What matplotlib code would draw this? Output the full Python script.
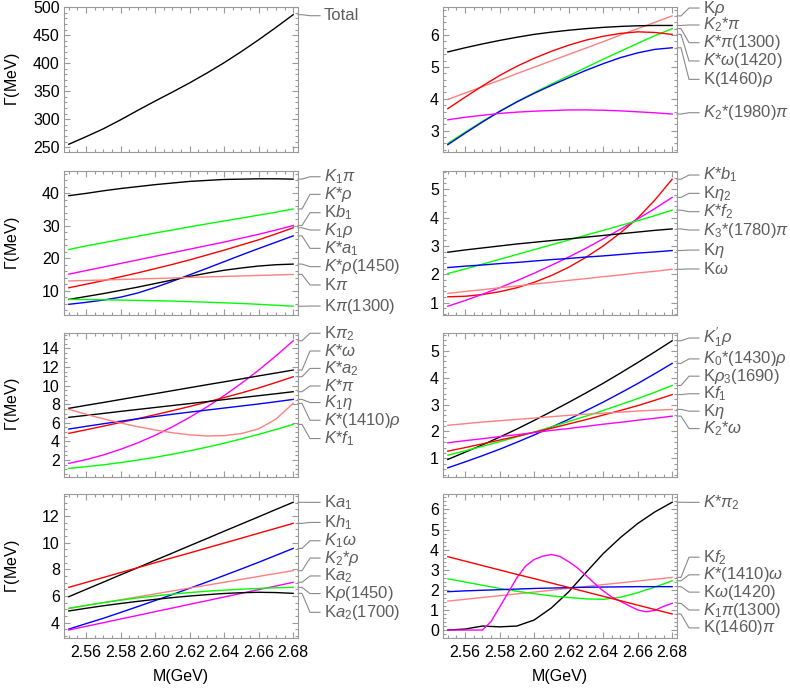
import matplotlib
matplotlib.use('Agg')
import matplotlib.pyplot as plt
from matplotlib.ticker import MultipleLocator

plt.rcParams['font.family'] = ['Liberation Sans', 'DejaVu Sans']
plt.rcParams['mathtext.fontset'] = 'custom'
plt.rcParams['mathtext.rm'] = 'Liberation Sans'
plt.rcParams['mathtext.it'] = 'Liberation Sans:italic'
plt.rcParams['mathtext.bf'] = 'Liberation Sans:bold'

# masses (GeV)
M = [2.55, 2.56, 2.57, 2.58, 2.59, 2.60, 2.61, 2.62, 2.63, 2.64, 2.65, 2.66, 2.67, 2.68]
M_fine = [2.550, 2.555, 2.560, 2.565, 2.570, 2.575, 2.580, 2.585, 2.590, 2.595,
          2.600, 2.605, 2.610, 2.615, 2.620, 2.625, 2.630, 2.635, 2.640, 2.645,
          2.650, 2.655, 2.660, 2.665, 2.670, 2.675, 2.680]

# panel 1
total = [255.4, 268.9, 283.0, 299.0, 316.0, 332.5, 348.5, 365.0, 382.5, 401.0, 421.0, 442.0, 464.0, 486.8]

# panel 2
p2_Krho = [3.98, 4.18, 4.38, 4.58, 4.79, 4.99, 5.19, 5.39, 5.59, 5.79, 6.00, 6.20, 6.40, 6.60]
p2_K2pi = [5.47, 5.60, 5.72, 5.83, 5.93, 6.02, 6.09, 6.15, 6.20, 6.24, 6.27, 6.29, 6.30, 6.30]
p2_Kspi1300 = [2.60, 2.95, 3.29, 3.61, 3.91, 4.19, 4.46, 4.72, 4.98, 5.24, 5.49, 5.74, 5.98, 6.20]
p2_Ksomega1420 = [3.69, 4.05, 4.40, 4.73, 5.02, 5.27, 5.49, 5.68, 5.84, 5.96, 6.05, 6.10, 6.08, 6.02]
p2_K1460rho = [2.56, 2.92, 3.27, 3.60, 3.90, 4.17, 4.42, 4.66, 4.89, 5.10, 5.29, 5.44, 5.55, 5.60]
p2_K21980pi = [3.34, 3.42, 3.48, 3.54, 3.58, 3.61, 3.63, 3.65, 3.65, 3.64, 3.62, 3.59, 3.56, 3.52]

# panel 3
p3_K1pi = [39.3, 40.0, 40.8, 41.5, 42.1, 42.7, 43.2, 43.7, 44.0, 44.3, 44.4, 44.5, 44.5, 44.4]
p3_Ksrho = [22.7, 23.8, 24.8, 25.8, 26.8, 27.8, 28.7, 29.7, 30.6, 31.5, 32.4, 33.3, 34.2, 35.2]
p3_Kb1 = [15.1, 16.2, 17.3, 18.4, 19.5, 20.6, 21.7, 22.8, 23.9, 25.0, 26.2, 27.4, 28.7, 30.1]
p3_K1rho = [10.9, 12.0, 13.1, 14.3, 15.5, 16.8, 18.1, 19.5, 21.0, 22.5, 24.1, 25.7, 27.5, 29.4]
p3_Ksa1 = [5.8, 6.4, 7.1, 8.0, 9.3, 11.0, 12.9, 14.9, 16.9, 18.95, 21.0, 23.0, 24.95, 26.9]
p3_Ksrho1450 = [7.3, 8.2, 9.1, 10.1, 11.1, 12.2, 13.3, 14.4, 15.4, 16.3, 17.0, 17.6, 18.0, 18.2]
p3_Kpi = [13.0, 13.15, 13.3, 13.45, 13.6, 13.75, 13.9, 14.1, 14.25, 14.4, 14.55, 14.7, 14.85, 15.0]
p3_Kpi1300 = [7.3, 7.25, 7.2, 7.1, 7.0, 6.9, 6.8, 6.6, 6.45, 6.25, 6.05, 5.8, 5.5, 5.2]

# panel 4
p4_Ksb1 = [1.21, 1.23, 1.29, 1.39, 1.53, 1.72, 1.96, 2.25, 2.60, 3.00, 3.46, 3.98, 4.62, 5.35]
p4_Keta2 = [0.88, 1.08, 1.30, 1.53, 1.78, 2.04, 2.32, 2.61, 2.92, 3.25, 3.59, 3.95, 4.32, 4.71]
p4_Ksf2 = [2.03, 2.19, 2.36, 2.53, 2.70, 2.87, 3.04, 3.21, 3.38, 3.55, 3.72, 3.89, 4.07, 4.26]
p4_K31780pi = [2.78, 2.86, 2.93, 3.00, 3.07, 3.13, 3.19, 3.25, 3.31, 3.37, 3.43, 3.49, 3.55, 3.60]
p4_Keta = [2.24, 2.29, 2.33, 2.38, 2.42, 2.47, 2.52, 2.56, 2.61, 2.65, 2.70, 2.75, 2.79, 2.84]
p4_Komega = [1.33, 1.40, 1.46, 1.53, 1.59, 1.66, 1.72, 1.79, 1.85, 1.92, 1.98, 2.05, 2.11, 2.18]

# panel 5
p5_Kpi2 = [1.64, 2.04, 2.54, 3.15, 3.85, 4.66, 5.57, 6.59, 7.71, 8.93, 10.25, 11.67, 13.20, 14.83]
p5_Ksomega = [7.56, 7.88, 8.19, 8.51, 8.83, 9.14, 9.46, 9.78, 10.10, 10.41, 10.73, 11.05, 11.36, 11.68]
p5_Ksa2 = [4.87, 5.25, 5.64, 6.04, 6.45, 6.87, 7.31, 7.76, 8.23, 8.72, 9.22, 9.75, 10.34, 10.96]
p5_Kspi = [6.59, 6.80, 7.01, 7.23, 7.44, 7.65, 7.86, 8.07, 8.28, 8.50, 8.71, 8.92, 9.13, 9.35]
p5_K1eta = [5.33, 5.62, 5.90, 6.17, 6.43, 6.68, 6.92, 7.15, 7.37, 7.59, 7.81, 8.03, 8.27, 8.52]
p5_Ks1410rho = [7.45, 6.92, 6.43, 5.98, 5.58, 5.23, 4.93, 4.71, 4.58, 4.62, 4.85, 5.35, 6.40, 8.09]
p5_Ksf1 = [1.10, 1.28, 1.48, 1.72, 1.99, 2.29, 2.62, 2.99, 3.38, 3.81, 4.27, 4.76, 5.28, 5.83]

# panel 6
p6_K1prho = [0.96, 1.23, 1.50, 1.79, 2.09, 2.41, 2.74, 3.08, 3.43, 3.79, 4.17, 4.56, 4.96, 5.37]
p6_K01430rho = [0.65, 0.87, 1.10, 1.34, 1.60, 1.87, 2.16, 2.45, 2.77, 3.09, 3.43, 3.78, 4.15, 4.53]
p6_Krho3 = [1.12, 1.28, 1.45, 1.62, 1.80, 1.98, 2.17, 2.37, 2.57, 2.78, 3.00, 3.22, 3.46, 3.71]
p6_Kf1 = [1.27, 1.40, 1.54, 1.68, 1.82, 1.97, 2.12, 2.28, 2.44, 2.61, 2.78, 2.96, 3.16, 3.37]
p6_Keta = [2.23, 2.29, 2.35, 2.40, 2.45, 2.50, 2.55, 2.60, 2.64, 2.68, 2.72, 2.76, 2.79, 2.82]
p6_K2omega = [1.58, 1.66, 1.73, 1.81, 1.88, 1.96, 2.04, 2.11, 2.19, 2.27, 2.34, 2.42, 2.49, 2.57]

# panel 7
p7_Ka1 = [5.95, 6.50, 7.04, 7.59, 8.13, 8.68, 9.22, 9.77, 10.31, 10.86, 11.40, 11.94, 12.49, 13.03]
p7_Kh1 = [6.65, 7.02, 7.39, 7.76, 8.13, 8.50, 8.87, 9.23, 9.60, 9.97, 10.34, 10.71, 11.08, 11.45]
p7_K1omega = [3.52, 3.93, 4.33, 4.77, 5.21, 5.66, 6.11, 6.58, 7.05, 7.54, 8.03, 8.53, 9.05, 9.57]
p7_K2rho = [5.07, 5.29, 5.51, 5.72, 5.94, 6.16, 6.38, 6.60, 6.81, 7.03, 7.25, 7.47, 7.69, 7.90]
p7_Ka2 = [3.45, 3.73, 4.00, 4.28, 4.55, 4.83, 5.10, 5.38, 5.65, 5.93, 6.20, 6.48, 6.75, 7.03]
p7_Krho1450 = [5.08, 5.30, 5.50, 5.69, 5.86, 6.01, 6.14, 6.26, 6.36, 6.44, 6.51, 6.57, 6.62, 6.65]
p7_Ka21700 = [4.88, 5.08, 5.27, 5.44, 5.60, 5.75, 5.88, 6.00, 6.10, 6.19, 6.25, 6.28, 6.26, 6.20]

# panel 8
p8_Kspi2 = [0.00, 0.05, 0.20, 0.16, 0.20, 0.50, 1.10, 1.90, 2.86, 3.80, 4.60, 5.30, 5.88, 6.36]
p8_Kf2 = [1.44, 1.53, 1.62, 1.71, 1.80, 1.89, 1.98, 2.08, 2.17, 2.26, 2.35, 2.44, 2.53, 2.62]
p8_Ks1410omega = [2.55, 2.39, 2.23, 2.07, 1.93, 1.81, 1.70, 1.62, 1.55, 1.53, 1.63, 1.86, 2.14, 2.45]
p8_Komega1420 = [1.91, 1.95, 1.98, 2.01, 2.04, 2.07, 2.09, 2.11, 2.13, 2.14, 2.15, 2.16, 2.16, 2.16]
p8_K1pi1300 = [0.00, 0.00, 0.00, 0.00, 0.00, 0.42, 1.14, 1.87, 2.60, 3.18, 3.51, 3.68, 3.76, 3.66,
               3.40, 3.10, 2.72, 2.32, 1.95, 1.64, 1.43, 1.21, 1.00, 0.91, 0.98, 1.18, 1.33]
p8_K1460pi = [3.65, 3.43, 3.21, 2.99, 2.77, 2.56, 2.34, 2.12, 1.90, 1.68, 1.46, 1.24, 1.02, 0.80]

BLACK = 'black'
RED = '#ff0000'
GREEN = '#00ff00'
BLUE = '#0000ff'
MAGENTA = '#ff00ff'
PINK = '#ff8080'
FRAME = '#9a9a9a'
LABEL = '#5e5e5e'
LEADER = '#8a8a8a'

W, H = 790, 690
LEFT_X, RIGHT_X, AX_W = 64, 443, 234
ROWS = [(7.3, 152.3), (170.7, 315.0), (332.7, 476.7), (494.0, 638.3)]

# (col, row, ylim, major, minor, curves[(x, y, color, label, label_frac)])
panels = [
    (0, 0, (241, 500), 50, 10, [
        (M, total, BLACK, 'Total', 0.942)]),
    (1, 0, (2.32, 6.87), 1, 0.2, [
        (M, p2_Krho, PINK, r'K$\rho$', 0.995),
        (M, p2_K2pi, BLACK, r'$K_2$*$\pi$', 0.878),
        (M, p2_Kspi1300, GREEN, r'$K$*$\pi$(1300)', 0.756),
        (M, p2_Ksomega1420, RED, r'$K$*$\omega$(1420)', 0.630),
        (M, p2_K1460rho, BLUE, r'K(1460)$\rho$', 0.503),
        (M, p2_K21980pi, MAGENTA, r'$K_2$*(1980)$\pi$', 0.273)]),
    (0, 1, (2.5, 47.0), 10, 2, [
        (M, p3_K1pi, BLACK, r'$K_1\pi$', 0.958),
        (M, p3_Ksrho, GREEN, r'$K$*$\rho$', 0.836),
        (M, p3_Kb1, MAGENTA, r'K$b_1$', 0.709),
        (M, p3_K1rho, RED, r'$K_1\rho$', 0.589),
        (M, p3_Ksa1, BLUE, r'$K$*$a_1$', 0.462),
        (M, p3_Ksrho1450, BLACK, r'$K$*$\rho$(1450)', 0.335),
        (M, p3_Kpi, PINK, r'K$\pi$', 0.208),
        (M, p3_Kpi1300, GREEN, r'K$\pi$(1300)', 0.062)]),
    (1, 1, (0.57, 5.65), 1, 0.2, [
        (M, p4_Ksb1, RED, r'$K$*$b_1$', 0.970),
        (M, p4_Keta2, MAGENTA, r'K$\eta_2$', 0.843),
        (M, p4_Ksf2, GREEN, r'$K$*$f_2$', 0.716),
        (M, p4_K31780pi, BLACK, r'$K_3$*(1780)$\pi$', 0.589),
        (M, p4_Keta, BLUE, r'K$\eta$', 0.450),
        (M, p4_Komega, PINK, r'K$\omega$', 0.319)]),
    (0, 2, (0.2, 15.7), 2, 0.5, [
        (M, p5_Kpi2, MAGENTA, r'K$\pi_2$', 0.996),
        (M, p5_Ksomega, BLACK, r'$K$*$\omega$', 0.873),
        (M, p5_Ksa2, RED, r'$K$*$a_2$', 0.752),
        (M, p5_Kspi, BLACK, r'$K$*$\pi$', 0.630),
        (M, p5_K1eta, BLUE, r'$K_1\eta$', 0.515),
        (M, p5_Ks1410rho, PINK, r'$K$*(1410)$\rho$', 0.392),
        (M, p5_Ksf1, GREEN, r'$K$*$f_1$', 0.265)]),
    (1, 2, (0.32, 5.67), 1, 0.2, [
        (M, p6_K1prho, BLACK, r"$K_1'\rho$", 0.963),
        (M, p6_K01430rho, BLUE, r'$K_0$*(1430)$\rho$', 0.818),
        (M, p6_Krho3, GREEN, r'K$\rho_3$(1690)', 0.698),
        (M, p6_Kf1, RED, r'K$f_1$', 0.576),
        (M, p6_Keta, PINK, r'K$\eta$', 0.455),
        (M, p6_K2omega, MAGENTA, r'$K_2$*$\omega$', 0.334)]),
    (0, 3, (2.83, 13.65), 2, 0.5, [
        (M, p7_Ka1, BLACK, r'K$a_1$', 0.942),
        (M, p7_Kh1, RED, r'K$h_1$', 0.803),
        (M, p7_K1omega, BLUE, r'$K_1\omega$', 0.676),
        (M, p7_K2rho, PINK, r'$K_2$*$\rho$', 0.556),
        (M, p7_Ka2, MAGENTA, r'K$a_2$', 0.432),
        (M, p7_Krho1450, GREEN, r'K$\rho$(1450)', 0.310),
        (M, p7_Ka21700, BLACK, r'K$a_2$(1700)', 0.180)]),
    (1, 3, (-0.41, 6.77), 1, 0.2, [
        (M, p8_Kspi2, BLACK, r'$K$*$\pi_2$', 0.942),
        (M, p8_Kf2, PINK, r'K$f_2$', 0.562),
        (M, p8_Ks1410omega, GREEN, r'$K$*(1410)$\omega$', 0.440),
        (M, p8_Komega1420, BLUE, r'K$\omega$(1420)', 0.320),
        (M_fine, p8_K1pi1300, MAGENTA, r'$K_1\pi$(1300)', 0.196),
        (M, p8_K1460pi, RED, r'K(1460)$\pi$', 0.072)]),
]

fig = plt.figure(figsize=(W / 100, H / 100), dpi=100)

for col, row, ylim, major, minor, curves in panels:
    x0 = LEFT_X if col == 0 else RIGHT_X
    top, bot = ROWS[row]
    ax = fig.add_axes([x0 / W, 1 - bot / H, AX_W / W, (bot - top) / H])
    for x, y, color, label, frac in curves:
        ax.plot(x, y, color=color, lw=1.0)
    ax.set_xlim(2.5472, 2.6828)
    ax.set_ylim(*ylim)
    ax.xaxis.set_major_locator(MultipleLocator(0.02))
    ax.xaxis.set_minor_locator(MultipleLocator(0.005))
    ax.yaxis.set_major_locator(MultipleLocator(major))
    ax.yaxis.set_minor_locator(MultipleLocator(minor))
    ax.tick_params(which='both', direction='in', top=True, right=True,
                   color=FRAME, width=0.8, labelsize=11.5, labelcolor='black')
    ax.tick_params(which='major', length=4, pad=3)
    ax.tick_params(which='minor', length=2)
    if row == 3:
        ax.set_xticklabels(['%.2f' % t for t in ax.get_xticks()])
        ax.tick_params(axis='x', pad=5)
    else:
        ax.tick_params(axis='x', labelbottom=False)
    for sp in ax.spines.values():
        sp.set_color(FRAME)
        sp.set_linewidth(0.8)

    # callout labels with leader lines
    lo, hi = ylim
    for x, y, color, label, frac in curves:
        f0 = (y[-1] - lo) / (hi - lo)
        xs = [1.0, 1 + 4 / AX_W, 1 + 12 / AX_W, 1 + 22 / AX_W]
        ys = [f0, f0, frac, frac]
        ax.plot(xs, ys, color=LEADER, lw=0.8, transform=ax.transAxes, clip_on=False)
        ax.text(1 + 26 / AX_W, frac, label, transform=ax.transAxes, fontsize=12,
                color=LABEL, va='center', ha='left')

    if col == 0:
        fig.text(12 / W, 1 - (top + bot) / 2 / H, r'$\Gamma$(MeV)', rotation=90,
                 fontsize=11.5, va='center', ha='center')
    if row == 3:
        fig.text((x0 + AX_W / 2) / W, 1 - 677 / H, 'M(GeV)', fontsize=11.5,
                 va='center', ha='center')

fig.savefig('out.png', dpi=100)
